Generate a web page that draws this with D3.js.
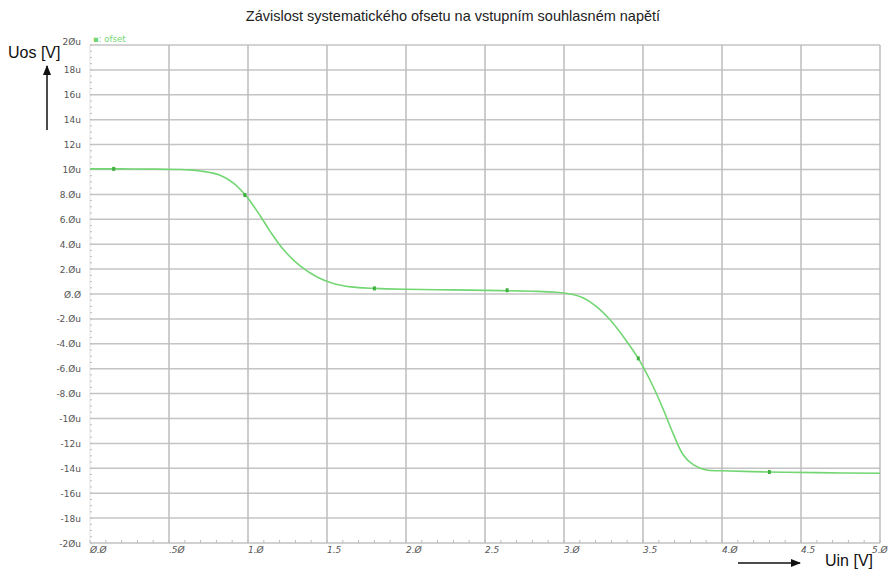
<!DOCTYPE html>
<html><head><meta charset="utf-8">
<script src="https://cdn.jsdelivr.net/npm/d3@7"></script>
<style>body{margin:0;background:#fff}svg{display:block}</style>
</head><body>
<svg id="c" width="892" height="570"></svg>
<script>
const uin = [0, 0.2, 0.4, 0.55, 0.63, 0.7, 0.82, 0.91, 0.99, 1.08, 1.14, 1.22, 1.33, 1.44, 1.54, 1.65, 1.8, 2.0, 2.3, 2.6, 2.8, 2.95, 3.05, 3.12, 3.2, 3.29, 3.4, 3.47, 3.5, 3.565, 3.63, 3.69, 3.755, 3.82, 3.9, 4.0, 4.3, 4.6, 5.0];
const ofset = [10.05, 10.05, 10.03, 10.0, 9.97, 9.88, 9.56, 8.89, 7.85, 6.23, 5.03, 3.63, 2.25, 1.34, 0.84, 0.57, 0.45, 0.38, 0.33, 0.27, 0.22, 0.14, -0.02, -0.3, -0.95, -2.05, -3.85, -5.17, -5.84, -7.45, -9.32, -11.19, -12.93, -13.73, -14.14, -14.2, -14.3, -14.35, -14.4];
const markerUin = [0.15, 0.98, 1.80, 2.64, 3.47, 4.30];
const markerOfset = [10.05, 7.95, 0.45, 0.3, -5.17, -14.3];
const xTicks = [0, 0.5, 1.0, 1.5, 2.0, 2.5, 3.0, 3.5, 4.0, 4.5, 5.0];
const xTickLabels = ["Ø.Ø", ".5Ø", "1.Ø", "1.5", "2.Ø", "2.5", "3.Ø", "3.5", "4.Ø", "4.5", "5.Ø"];
const yTicks = [20, 18, 16, 14, 12, 10, 8, 6, 4, 2, 0, -2, -4, -6, -8, -10, -12, -14, -16, -18, -20];
const yTickLabels = ["2Øu", "18u", "16u", "14u", "12u", "1Øu", "8.Øu", "6.Øu", "4.Øu", "2.Øu", "Ø.Ø", "-2.Øu", "-4.Øu", "-6.Øu", "-8.Øu", "-1Øu", "-12u", "-14u", "-16u", "-18u", "-2Øu"];
const title = "Závislost systematického  ofsetu na vstupním souhlasném napětí";
const legendLabel = "ofset";

const svg = d3.select("#c");
const L = 90, R = 880, T = 45, B = 543;
const x = d3.scaleLinear().domain([0, 5]).range([L, R]);
const y = d3.scaleLinear().domain([-20, 20]).range([B, T]);
const green = "#72d672";

// grid
const g = svg.append("g");
g.selectAll(".h").data(yTicks).join("line")
  .attr("x1", L).attr("x2", R).attr("y1", d => y(d)).attr("y2", d => y(d))
  .attr("stroke", "#c4c4c4").attr("stroke-width", 1.5);
g.selectAll(".v").data(xTicks.slice(1)).join("line")
  .attr("y1", T).attr("y2", B).attr("x1", d => x(d)).attr("x2", d => x(d))
  .attr("stroke", "#bdbdbd").attr("stroke-width", 1.5);
// left and bottom edges with minor ticks
g.append("line").attr("x1", L).attr("x2", L).attr("y1", T).attr("y2", B).attr("stroke", "#e2e2e2").attr("stroke-width", 1);
g.append("line").attr("x1", L).attr("x2", R).attr("y1", B).attr("y2", B).attr("stroke", "#cfcfcf").attr("stroke-width", 1);
g.selectAll(".my").data(d3.range(-20, 20.01, 0.5)).join("line")
  .attr("x1", L).attr("x2", L + 2).attr("y1", d => y(d)).attr("y2", d => y(d))
  .attr("stroke", "#bbb").attr("stroke-width", 1);
g.selectAll(".mx").data(d3.range(0, 5.001, 0.1)).join("line")
  .attr("x1", d => x(d)).attr("x2", d => x(d)).attr("y1", B).attr("y2", B - 3)
  .attr("stroke", "#bbb").attr("stroke-width", 1);

// curve
const line = d3.line().x(d => x(d[0])).y(d => y(d[1])).curve(d3.curveCatmullRom.alpha(0.5));
svg.append("path").datum(uin.map((u, i) => [u, ofset[i]]))
  .attr("d", line).attr("fill", "none").attr("stroke", green).attr("stroke-width", 1.6);
svg.selectAll(".mk").data(markerUin.map((u, i) => [u, markerOfset[i]])).join("rect")
  .attr("x", d => x(d[0]) - 1.5).attr("y", d => y(d[1]) - 2).attr("width", 3).attr("height", 4)
  .attr("fill", "#3fb03f");

// tick labels
const lab = svg.append("g").attr("font-family", "DejaVu Sans, sans-serif").attr("font-size", 9).attr("fill", "#555");
lab.selectAll(".yl").data(yTicks).join("text")
  .attr("x", 81).attr("y", (d, i) => y(d) + (i === 0 ? 0 : 3.5))
  .attr("text-anchor", "end").text((d, i) => yTickLabels[i]);
lab.selectAll(".xl").data(xTicks).join("text")
  .attr("x", (d, i) => x(d) + (i === xTicks.length - 1 ? -8 : 0)).attr("y", 553)
  .attr("text-anchor", "start").attr("font-style", "italic").text((d, i) => xTickLabels[i]);

// title
svg.append("text").attr("x", 453).attr("y", 21).attr("text-anchor", "middle")
  .attr("font-family", "Liberation Sans, Arial, sans-serif").attr("font-size", 14.5).attr("fill", "#222").text(title);

// legend
svg.append("text").attr("x", 93).attr("y", 42).attr("font-family", "DejaVu Sans, sans-serif")
  .attr("font-size", 8.5).attr("fill", green).text("▪:  " + legendLabel);

// axis labels with arrows
const ax = svg.append("g").attr("font-family", "Liberation Sans, Arial, sans-serif").attr("fill", "#111");
ax.append("text").attr("x", 8).attr("y", 58).attr("font-size", 16).text("Uos [V]");
ax.append("text").attr("x", 825).attr("y", 566).attr("font-size", 16).text("Uin [V]");
const defs = svg.append("defs");
defs.append("marker").attr("id", "ah").attr("viewBox", "0 0 10 10").attr("refX", 9).attr("refY", 5)
  .attr("markerWidth", 7).attr("markerHeight", 7).attr("orient", "auto")
  .append("path").attr("d", "M0,1 L10,5 L0,9 Z").attr("fill", "#111");
svg.append("line").attr("x1", 47).attr("x2", 47).attr("y1", 130).attr("y2", 66)
  .attr("stroke", "#111").attr("stroke-width", 1.5).attr("marker-end", "url(#ah)");
svg.append("line").attr("x1", 738).attr("x2", 800).attr("y1", 563).attr("y2", 563)
  .attr("stroke", "#111").attr("stroke-width", 1.5).attr("marker-end", "url(#ah)");
</script>
</body></html>
